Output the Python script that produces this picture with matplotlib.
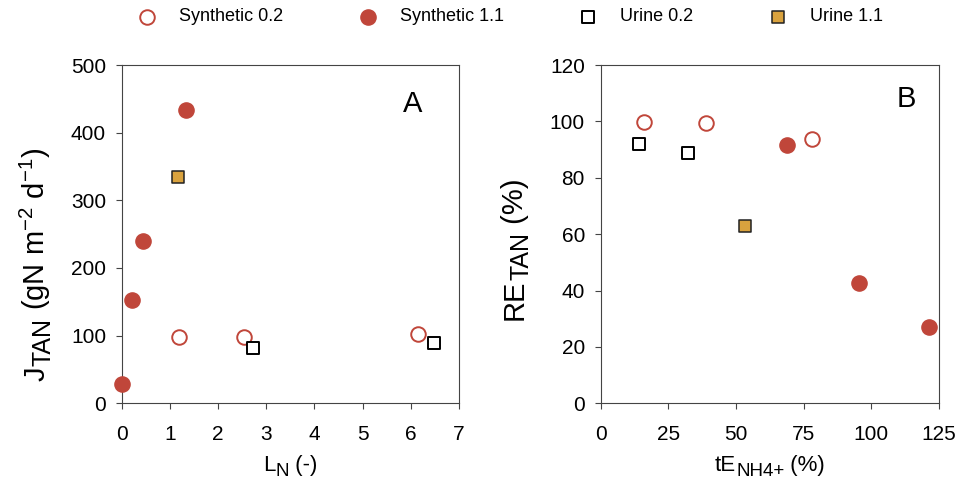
import matplotlib
matplotlib.use('Agg')
import matplotlib.pyplot as plt

plt.rcParams['font.family'] = ['Liberation Sans', 'DejaVu Sans']
plt.rcParams['mathtext.fontset'] = 'custom'
plt.rcParams['mathtext.rm'] = 'Liberation Sans'
plt.rcParams['mathtext.it'] = 'Liberation Sans'

RED = '#C0463A'
GOLD = '#D9A23E'

# panel A: L_N vs J_TAN
a_syn02_x = [1.19, 2.54, 6.15]
a_syn02_y = [98, 98, 102]
a_syn11_x = [0.0, 0.21, 0.44, 1.33]
a_syn11_y = [28, 153, 240, 433]
a_uri02_x = [2.72, 6.49]
a_uri02_y = [82, 89]
a_uri11_x = [1.17]
a_uri11_y = [335]

# panel B: tE_NH4+ vs RE_TAN
b_syn02_x = [16.1, 39.0, 78.1]
b_syn02_y = [99.7, 99.4, 93.6]
b_syn11_x = [69.0, 95.5, 121.4]
b_syn11_y = [91.5, 42.6, 27.0]
b_uri02_x = [14.2, 32.4]
b_uri02_y = [91.9, 88.8]
b_uri11_x = [53.4]
b_uri11_y = [62.8]

fig = plt.figure(figsize=(9.56, 4.94), dpi=100)
axA = fig.add_axes([0.1273, 0.1836, 0.3528, 0.6848])
axB = fig.add_axes([0.6283, 0.1836, 0.3539, 0.6848])


def draw(ax, s02, s11, u02, u11):
    h1 = ax.scatter(*s02, s=110, facecolors='white', edgecolors=RED, linewidths=1.4, zorder=3, clip_on=False)
    h2 = ax.scatter(*s11, s=120, color=RED, edgecolors=RED, zorder=3, clip_on=False)
    h3 = ax.scatter(*u02, s=80, marker='s', facecolors='white', edgecolors='black', linewidths=1.4, zorder=3)
    h4 = ax.scatter(*u11, s=80, marker='s', facecolors=GOLD, edgecolors='#222222', linewidths=1.1, zorder=3)
    for sp in ax.spines.values():
        sp.set_color('#444444')
    ax.tick_params(labelsize=15, length=4.3, color='#444444', direction='out')
    ax.tick_params(axis='x', pad=11)
    ax.tick_params(axis='y', pad=7)
    return [h1, h2, h3, h4]


def chain_label(pieces, x0, y0, vertical=False):
    # label built from pieces (text, size, drop in points) so subscripts stay large
    rot = 90 if vertical else 0
    text, size, drop = pieces[0]
    prev = fig.text(x0, y0, text, fontsize=size, rotation=rot, rotation_mode='anchor',
                    ha='left', va='baseline')
    for text, size, drop in pieces[1:]:
        if vertical:
            coords, xy, off = ('figure fraction', prev), (x0, 1), (drop, 0)
        else:
            coords, xy, off = (prev, 'figure fraction'), (1, y0), (0, -drop)
        prev = axA.annotate(text, xy=xy, xycoords=coords, xytext=off, textcoords='offset points',
                            fontsize=size, rotation=rot, rotation_mode='anchor',
                            ha='left', va='baseline', annotation_clip=False)


handles = draw(axA, (a_syn02_x, a_syn02_y), (a_syn11_x, a_syn11_y),
               (a_uri02_x, a_uri02_y), (a_uri11_x, a_uri11_y))
draw(axB, (b_syn02_x, b_syn02_y), (b_syn11_x, b_syn11_y),
     (b_uri02_x, b_uri02_y), (b_uri11_x, b_uri11_y))

axA.set_xlim(0, 7)
axA.set_ylim(0, 500)
axA.set_xticks(range(0, 8))
axA.set_yticks(range(0, 501, 100))
axA.text(0.864, 0.885, 'A', transform=axA.transAxes, fontsize=21, ha='center', va='center')

axB.set_xlim(0, 125)
axB.set_ylim(0, 120)
axB.set_xticks(range(0, 126, 25))
axB.set_yticks(range(0, 121, 20))
axB.text(0.902, 0.9, 'B', transform=axB.transAxes, fontsize=21, ha='center', va='center')

chain_label([('L', 16, 0), ('N', 13.5, 3.5), (' (-)', 16, 0)], 0.275, 0.047)
chain_label([('tE', 16, 0), ('NH4+', 13.5, 3.5), (' (%)', 16, 0)], 0.748, 0.047)
chain_label([('J', 21, 0), ('TAN', 18, 4), (r' (gN m$^{-2}$ d$^{-1}$)', 21, 0)], 0.047, 0.229, vertical=True)
chain_label([('RE', 21, 0), ('TAN', 18, 4), (' (%)', 21, 0)], 0.547, 0.352, vertical=True)

fig.legend(handles, ['Synthetic 0.2', 'Synthetic 1.1', 'Urine 0.2', 'Urine 1.1'],
           loc='center', bbox_to_anchor=(0.533, 0.966), ncol=4, frameon=False,
           fontsize=13, columnspacing=4.1, handletextpad=1.17, handlelength=1.2,
           borderpad=0, borderaxespad=0)

fig.savefig('out.png', dpi=100)
